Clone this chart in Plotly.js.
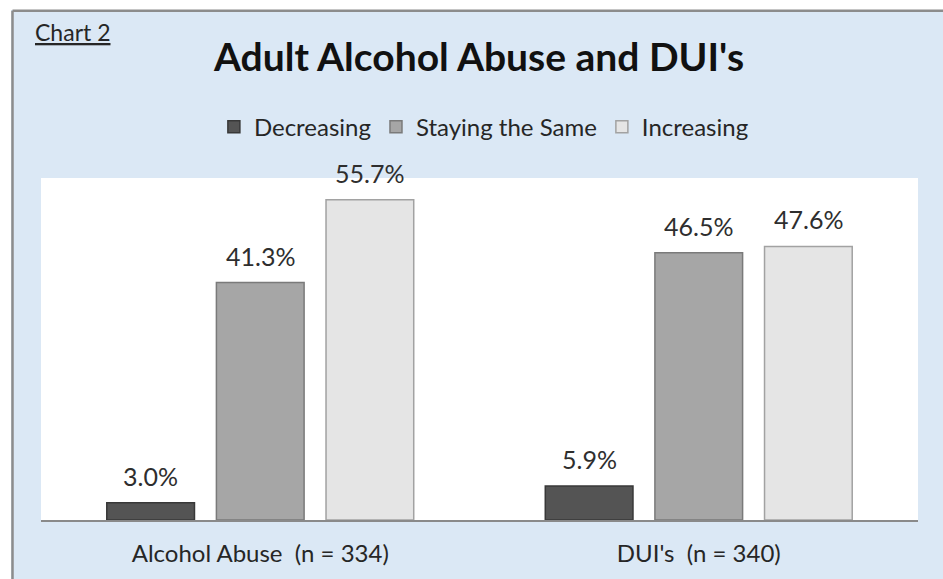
<!DOCTYPE html>
<html>
<head>
<meta charset="utf-8">
<script src="https://cdn.plot.ly/plotly-3.0.1.min.js"></script>
<style>html,body{margin:0;padding:0;background:#fff;}#chart{width:943px;height:579px;}</style>
</head>
<body>
<div id="chart"></div>
<script>
var categories = ["Alcohol Abuse\u00a0\u00a0(n = 334)", "DUI's\u00a0\u00a0(n = 340)"];
var seriesNames = ["Decreasing", "Staying the Same", "Increasing"];
var decreasing = [3.0, 5.9];
var stayingSame = [41.3, 46.5];
var increasing = [55.7, 47.6];
var chartTitle = "Adult Alcohol Abuse and DUI's";
var chartLabel = "Chart 2";

var fills = ["#545454", "#a6a6a6", "#e5e5e5"];
var edges = ["#383838", "#7a7a7a", "#a2a2a2"];
var values = [decreasing, stayingSame, increasing];
var FONT = "Lato, 'Open Sans', sans-serif";
var BARGAP = 0.25;
var nSeries = values.length;
var slot = (1 - BARGAP) / nSeries;

var traces = values.map(function (v, i) {
  return {
    type: "bar",
    name: seriesNames[i],
    x: categories,
    y: v,
    marker: { color: fills[i], line: { color: edges[i], width: 1.5 } },
    cliponaxis: false,
    hoverinfo: "skip"
  };
});

// value labels placed through the axes (category index + group offset, value)
var labelAnnotations = [];
values.forEach(function (v, i) {
  v.forEach(function (val, c) {
    labelAnnotations.push({
      text: val.toFixed(1) + "%",
      xref: "x", yref: "y",
      x: c + (i - (nSeries - 1) / 2) * slot,
      y: val,
      xanchor: "center", yanchor: "bottom",
      yshift: 10,
      showarrow: false,
      font: { family: FONT, size: 25, color: "#2e2e2e" }
    });
  });
});

var layout = {
  width: 943,
  height: 579,
  margin: { l: 41, r: 25, t: 178, b: 59 },
  paper_bgcolor: "#dbe8f5",
  plot_bgcolor: "#ffffff",
  barmode: "group",
  bargap: BARGAP,
  bargroupgap: 0.2,
  font: { family: FONT, color: "#262626" },
  title: {
    text: "<b>" + chartTitle + "</b>",
    font: { family: FONT, size: 39, color: "#111111" },
    x: 0.4994, xanchor: "center", xref: "paper",
    y: 1 - 57 / 579, yanchor: "middle", yref: "container"
  },
  showlegend: true,
  legend: {
    orientation: "h",
    x: 0.505, xanchor: "center",
    y: 1.149, yanchor: "middle",
    font: { family: FONT, size: 24, color: "#262626" },
    bgcolor: "rgba(0,0,0,0)",
    itemwidth: 30,
    traceorder: "normal"
  },
  xaxis: {
    type: "category",
    range: [-0.5, 1.5],
    showgrid: false,
    zeroline: false,
    showline: true,
    linecolor: "#8a8a8a",
    linewidth: 1.5,
    ticks: "",
    ticklabelstandoff: 12,
    tickfont: { family: FONT, size: 24, color: "#262626" },
    fixedrange: true
  },
  yaxis: {
    range: [0, 59.5],
    showgrid: false,
    zeroline: false,
    showline: false,
    showticklabels: false,
    ticks: "",
    fixedrange: true
  },
  annotations: [{
    text: "<u>" + chartLabel + "</u>",
    xref: "paper", yref: "paper",
    x: -0.0091, xanchor: "left",
    y: 1.427, yanchor: "middle",
    showarrow: false,
    font: { family: FONT, size: 23, color: "#262626" }
  }].concat(labelAnnotations),
  shapes: [
    { type: "rect", xref: "paper", yref: "paper", x0: -0.1, x1: -0.0342, y0: -0.3, y1: 1.7,
      fillcolor: "#ffffff", line: { width: 0 }, layer: "above" },
    { type: "rect", xref: "paper", yref: "paper", x0: -0.1, x1: 1.2, y0: 1.491, y1: 1.7,
      fillcolor: "#ffffff", line: { width: 0 }, layer: "above" },
    { type: "line", xref: "paper", yref: "paper", x0: -0.0325, x1: -0.0325, y0: -0.3, y1: 1.489,
      line: { color: "#8c8c8c", width: 2.5 }, layer: "above" },
    { type: "line", xref: "paper", yref: "paper", x0: -0.0325, x1: 1.2, y0: 1.489, y1: 1.489,
      line: { color: "#8c8c8c", width: 2.5 }, layer: "above" }
  ]
};

Plotly.newPlot("chart", traces, layout, { displayModeBar: false, staticPlot: true });
</script>
</body>
</html>
